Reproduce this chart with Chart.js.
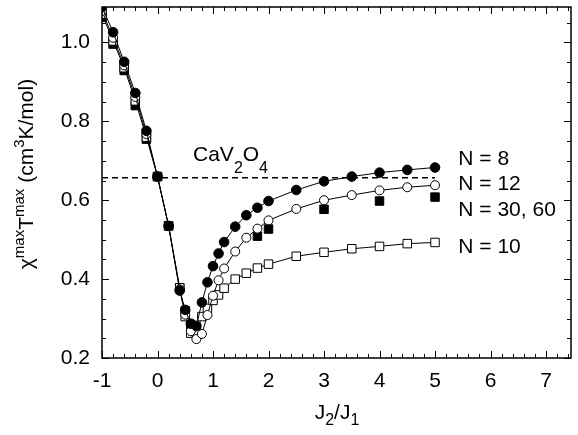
<!DOCTYPE html>
<html>
<head>
<meta charset="utf-8">
<script src="https://cdn.jsdelivr.net/npm/chart.js@4"></script>
<style>
  html, body { margin: 0; padding: 0; background: #fff; overflow: hidden; }
</style>
</head>
<body>
<canvas id="chart" width="578" height="435"></canvas>
<script>
// ── data ──
const xTicks = [-1, 0, 1, 2, 3, 4, 5, 6, 7];
const yTicks = [0.2, 0.4, 0.6, 0.8, 1.0];

// J2/J1 grid shared by the N = 8, 12, 10 curves
const ratio = [-1, -0.8, -0.6, -0.4, -0.2, 0, 0.2, 0.4, 0.5, 0.6, 0.7, 0.8, 0.9,
               1.0, 1.1, 1.2, 1.4, 1.6, 1.8, 2.0, 2.5, 3.0, 3.5, 4.0, 4.5, 5.0];
const n8  = [1.090, 1.026, 0.951, 0.872, 0.776, 0.660, 0.535, 0.371, 0.322, 0.287, 0.281, 0.341, 0.392,
             0.433, 0.465, 0.494, 0.533, 0.562, 0.581, 0.598, 0.626, 0.648, 0.660, 0.670, 0.677, 0.683];
const n12 = [1.080, 1.012, 0.942, 0.862, 0.768, 0.660, 0.535, 0.374, 0.310, 0.268, 0.248, 0.261, 0.309,
             0.358, 0.397, 0.427, 0.470, 0.505, 0.528, 0.549, 0.578, 0.600, 0.613, 0.625, 0.633, 0.638];
const n10 = [1.072, 1.004, 0.936, 0.852, 0.760, 0.660, 0.535, 0.378, 0.305, 0.263, 0.265, 0.305, 0.326,
             0.346, 0.360, 0.377, 0.400, 0.415, 0.428, 0.438, 0.458, 0.468, 0.477, 0.483, 0.490, 0.493];

// N = 30, 60 (markers only)
const ratioBig = [-1, -0.8, -0.6, -0.4, -0.2, 0, 0.2, 0.4, 0.5, 0.6, 0.7, 1.8, 2.0, 3.0, 4.0, 5.0];
const nBig     = [1.064, 0.996, 0.929, 0.840, 0.755, 0.660, 0.535, 0.378, 0.320, 0.285, 0.278,
                  0.509, 0.527, 0.577, 0.598, 0.608];

// experimental CaV2O4 level
const refX = [-1, 5];
const refY = [0.657, 0.657];

const FONT = '"Liberation Sans", Arial, Helvetica, sans-serif';
const pts = (xs, ys) => xs.map((x, i) => ({ x, y: ys[i] }));

// text labels (data coordinates) — rich segments: [text, 'sub'|'sup'|undefined]
const notes = [
  { x: 0.64, y: 0.699, size: 21, sub: 0.55, scale: 0.76, segs: [['CaV'], ['2', 'sub'], ['O'], ['4', 'sub']] },
  { x: 5.42, y: 0.689, size: 21, segs: [['N = 8']] },
  { x: 5.42, y: 0.625, size: 21, segs: [['N = 12']] },
  { x: 5.42, y: 0.559, size: 21, segs: [['N = 30, 60']] },
  { x: 5.42, y: 0.465, size: 21, segs: [['N = 10']] }
];

function richText(ctx, segs, x, y, size, align, subOff = 0.3, scale = 0.7) {
  const parts = segs.map(([t, k]) => {
    const s = k ? Math.round(size * scale) : size;
    ctx.font = `${s}px ${FONT}`;
    return { t, k, s, w: ctx.measureText(t).width };
  });
  const total = parts.reduce((a, p) => a + p.w, 0);
  let cx = align === 'center' ? x - total / 2 : x;
  ctx.textAlign = 'left';
  ctx.textBaseline = 'alphabetic';
  parts.forEach(p => {
    ctx.font = `${p.s}px ${FONT}`;
    const dy = p.k === 'sub' ? size * subOff : p.k === 'sup' ? -size * 0.45 : 0;
    ctx.fillText(p.t, cx, y + dy);
    cx += p.w;
  });
}

// frame, inward ticks on all four sides, titles and notes
const decor = {
  id: 'decor',
  afterDraw(chart) {
    const { ctx, chartArea: a, scales: { x, y } } = chart;
    ctx.save();
    ctx.strokeStyle = '#000';
    ctx.fillStyle = '#000';
    ctx.lineWidth = 1.5;
    ctx.strokeRect(a.left, a.top, a.right - a.left, a.bottom - a.top);

    ctx.lineWidth = 1;
    ctx.beginPath();
    for (let v = -1; v <= x.max + 1e-9; v += 0.2) {
      const px = Math.round(x.getPixelForValue(v)) + 0.5;
      const major = Math.abs(v - Math.round(v)) < 1e-6;
      const len = major ? 7 : 4;
      ctx.moveTo(px, a.bottom); ctx.lineTo(px, a.bottom - len);
      ctx.moveTo(px, a.top);    ctx.lineTo(px, a.top + len);
    }
    for (let v = 0.2; v <= y.max + 1e-9; v += 0.05) {
      const py = Math.round(y.getPixelForValue(v)) + 0.5;
      const major = Math.abs(v * 5 - Math.round(v * 5)) < 1e-6;
      const len = major ? 7 : 4;
      ctx.moveTo(a.left, py);  ctx.lineTo(a.left + len, py);
      ctx.moveTo(a.right, py); ctx.lineTo(a.right - len, py);
    }
    ctx.stroke();

    // notes
    notes.forEach(n => {
      richText(ctx, n.segs, x.getPixelForValue(n.x), y.getPixelForValue(n.y), n.size, 'left', n.sub, n.scale);
    });

    // axis titles
    richText(ctx, [['J'], ['2', 'sub'], ['/J'], ['1', 'sub']], 337, 419, 21, 'center', 0.3, 0.74);
    ctx.save();
    ctx.translate(33, 174);
    ctx.rotate(-Math.PI / 2);
    richText(ctx, [['χ'], ['max', 'sup'], ['T'], ['max', 'sup'], [' (cm'], ['3', 'sup'], ['K/mol)']], 0, 0, 21, 'center');
    ctx.restore();
    ctx.restore();
  }
};

const line = { borderColor: '#000', borderWidth: 1, showLine: true, pointBorderColor: '#000', pointBorderWidth: 1 };

new Chart(document.getElementById('chart'), {
  type: 'scatter',
  data: {
    datasets: [
      { ...line, label: 'N = 8', data: pts(ratio, n8), pointStyle: 'circle', pointRadius: 4.8, pointBackgroundColor: '#000' },
      { ...line, label: 'N = 12', data: pts(ratio, n12), pointStyle: 'circle', pointRadius: 4.5, pointBackgroundColor: '#fff' },
      { ...line, label: 'N = 10', data: pts(ratio, n10), pointStyle: 'rect', pointRadius: 6, pointBackgroundColor: '#fff' },
      { label: 'N = 30, 60', data: pts(ratioBig, nBig), showLine: false, pointStyle: 'rect', pointRadius: 6,
        pointBackgroundColor: '#000', pointBorderColor: '#000', pointBorderWidth: 1 },
      { label: 'CaV2O4', data: pts(refX, refY), showLine: true, borderColor: '#000', borderWidth: 1.5,
        borderDash: [6, 4], pointRadius: 0 }
    ]
  },
  options: {
    responsive: false,
    animation: false,
    devicePixelRatio: 1,
    layout: { padding: { top: 7, right: 0, left: 0, bottom: 0 } },
    plugins: { legend: { display: false }, tooltip: { enabled: false } },
    scales: {
      x: {
        type: 'linear', min: -1, max: 7.45,
        grid: { display: false, drawTicks: false },
        border: { display: false },
        afterBuildTicks: s => { s.ticks = xTicks.map(v => ({ value: v })); },
        afterFit: s => { s.height = 77; s.paddingLeft = 0; s.paddingRight = 0; },
        ticks: { color: '#000', font: { family: FONT, size: 21 }, padding: 11, maxRotation: 0,
                 callback: v => String(v) }
      },
      y: {
        type: 'linear', min: 0.2, max: 1.09,
        grid: { display: false, drawTicks: false },
        border: { display: false },
        afterBuildTicks: s => { s.ticks = yTicks.map(v => ({ value: v })); },
        afterFit: s => { s.width = 102; s.paddingTop = 0; s.paddingBottom = 0; },
        ticks: { color: '#000', font: { family: FONT, size: 21 }, padding: 12,
                 callback: v => Number(v).toFixed(1) }
      }
    }
  },
  plugins: [decor]
});
</script>
</body>
</html>
